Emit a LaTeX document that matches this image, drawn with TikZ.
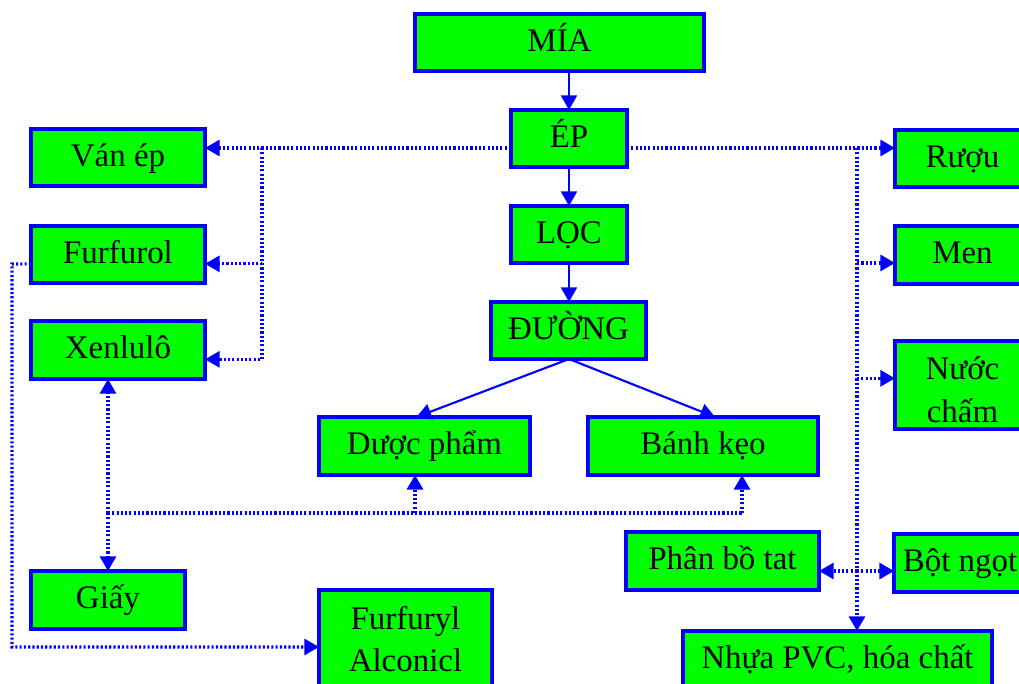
\documentclass[tikz,border=0pt]{standalone}
\usepackage{fontspec}
\setmainfont{Liberation Serif}
\usetikzlibrary{arrows.meta}
\definecolor{bgreen}{HTML}{00FF00}
\definecolor{bblue}{HTML}{0000FF}
\tikzset{
 boxbase/.style={draw=bblue, fill=bgreen, line width=2.4pt, inner sep=0pt, outer sep=0pt, rectangle, font=\fontsize{24.7pt}{32pt}\selectfont},
 box/.style={boxbase, text height=16.4pt, text depth=3.2pt},
 boxtwo/.style={boxbase, align=center},
 flow/.style={draw=bblue, line width=1.6pt, -{Triangle[length=11pt,width=12pt]}},
 dots/.style={draw=bblue, line width=2.4pt, dash pattern=on 1.6pt off 1.6pt},
 dtip/.style={-{Triangle[length=11pt,width=12pt]}},
}
\newcommand\bx[7][box]{\node[#1, minimum width={(#5-#3)*0.75pt}, minimum height={(#6-#4)*0.75pt}] (#2) at ({(#3+#5)/2},{(#4+#6)/2}) {#7};}
\begin{document}
\begin{tikzpicture}[x=0.75pt,y=-0.75pt]
\useasboundingbox (0,0) rectangle (1019,684);
\clip (0,0) rectangle (1019,684);
\fill[white] (0,0) rectangle (1019,684);
% boxes
\bx{mia}{415}{14}{704}{71}{MÍA}
\bx{ep}{511}{110}{627}{167}{ÉP}
\bx{loc}{511}{206}{627}{263}{LỌC}
\bx{duong}{491}{302}{646}{359}{ĐƯỜNG}
\bx{duoc}{319}{417}{530}{475}{Dược phẩm}
\bx{banh}{588}{417}{818}{475}{Bánh kẹo}
\bx{vanep}{31}{129}{205}{186}{Ván ép}
\bx{furfurol}{31}{226}{205}{283}{Furfurol}
\bx{xen}{31}{321}{205}{379}{Xenlulô}
\bx{giay}{31}{571}{185}{629}{Giấy}
\bx[boxtwo]{furyl}{319}{590}{492}{688}{Furfuryl\\Alconicl}
\bx{ruou}{895}{130}{1030}{187}{Rượu}
\bx{men}{895}{226}{1030}{284}{Men}
\bx[boxtwo]{nuoc}{895}{341}{1030}{429}{\rule{0pt}{24pt}Nước\\chấm}
\bx{phan}{626}{532}{819}{590}{Phân bồ tat}
\bx{bot}{894}{534}{1026}{592}{Bột ngọt}
\bx{nhua}{683}{631}{992}{688}{Nhựa PVC, hóa chất}
% main flow
\draw[flow] (mia.south -| ep) -- (ep.north);
\draw[flow] (ep) -- (loc);
\draw[flow] (loc) -- (duong.north -| loc);
\draw[flow] (duong.south -| loc) -- ([xshift=-6pt]duoc.north);
\draw[flow] (duong.south -| loc) -- ([xshift=9pt]banh.north);
% left branch
\coordinate (jl) at (262,148);
\draw[dots,dtip] (ep.west |- jl) -- (vanep.east |- jl);
\draw[dots,dtip] (jl) |- ([yshift=-7pt]furfurol.east);
\draw[dots,dtip] (jl) |- ([yshift=-7pt]xen.east);
% right branch
\coordinate (jr) at (857,148);
\coordinate (jpb) at (857,571);
\draw[dots,dtip] (ep.east |- jr) -- (ruou.west |- jr);
\draw[dots,dtip] (jr) -- (nhua.north -| jr);
\draw[dots,dtip] (jr) |- ([yshift=-6pt]men.west);
\draw[dots,dtip] (jr) |- ([yshift=5pt]nuoc.west);
\draw[dots,dtip] (jpb) -- (phan.east |- jpb);
\draw[dots,dtip] (jpb) -- (bot.west |- jpb);
% bottom left network
\coordinate (jx) at (108,513);
\coordinate (jd) at (415,513);
\coordinate (jb) at (742,513);
\draw[dots,dtip] (jx) -- (xen.south -| jx);
\draw[dots,dtip] (jx) -- (giay.north -| jx);
\draw[dots] (jx) -- (jb);
\draw[dots,dtip] (jd) -- (duoc.south -| jd);
\draw[dots,dtip] (jb) -- (banh.south -| jb);
% furfurol to furfuryl
\coordinate (jf) at (12,264);
\coordinate (jf2) at (12,647);
\draw[dots,dtip] ([yshift=-7pt]furfurol.west) -- (jf) -- (jf2) -- (furyl.west |- jf2);
\end{tikzpicture}
\end{document}
